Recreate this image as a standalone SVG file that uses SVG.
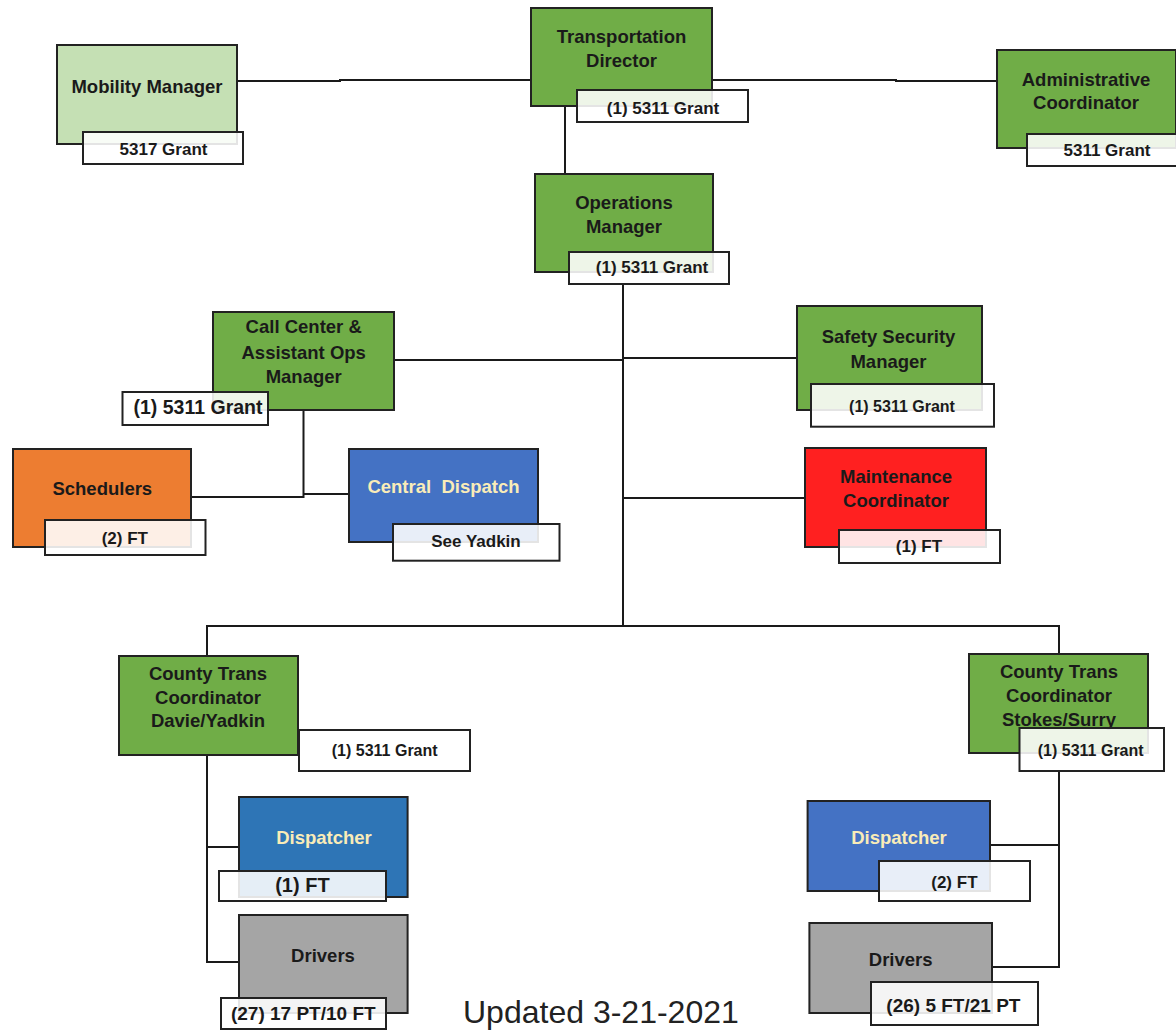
<svg xmlns="http://www.w3.org/2000/svg" width="1176" height="1031" viewBox="0 0 1176 1031">
<style>
.n{stroke:#222;stroke-width:2}
.g{fill:#70ad47}.lg{fill:#c5e0b4}.o{fill:#ed7d31}.b{fill:#4472c4}.b2{fill:#2e75b6}.r{fill:#ff2020}.gr{fill:#a5a5a5}
.lb{fill:#fff;fill-opacity:0.88;stroke:#222;stroke-width:2}
text{font-family:"Liberation Sans",Arial,sans-serif;font-weight:bold;fill:#1a1a1a;text-anchor:middle}
.t{font-size:18.5px}
.s{font-size:17px}
.cy{fill:#f9ecb8}
.c{fill:none;stroke:#1a1a1a;stroke-width:2}
</style>
<rect width="1176" height="1031" fill="#fff"/>
<g id="connectors">
<path class="c" d="M237,81 H340 V80 H531"/>
<path class="c" d="M712,80 H896 V81 H997"/>
<path class="c" d="M565,106 V174"/>
<path class="c" d="M623,284 V626"/>
<path class="c" d="M394,360 H623"/>
<path class="c" d="M623,358 H797"/>
<path class="c" d="M623,498 H805"/>
<path class="c" d="M303.5,410 V497 H191"/>
<path class="c" d="M303.5,494 H349"/>
<path class="c" d="M207,656 V626 H1059 V654"/>
<path class="c" d="M207,755 V962 H239"/>
<path class="c" d="M207,847 H239"/>
<path class="c" d="M1059,771 V967 H992"/>
<path class="c" d="M1059,845 H990"/>
</g>
<g id="mobility-manager">
<rect class="n lg" x="57" y="45" width="180" height="99"/>
<text class="t" x="147" y="93">Mobility Manager</text>
<rect class="lb" x="83" y="132" width="160" height="32"/>
<text class="s" x="163.5" y="155">5317 Grant</text>
</g>
<g id="transportation-director">
<rect class="n g" x="531" y="8" width="181" height="98"/>
<text class="t" x="621.5" y="43">Transportation</text>
<text class="t" x="621.5" y="67">Director</text>
<rect class="lb" x="577" y="90" width="171" height="32"/>
<text class="s" x="663" y="113.5">(1) 5311 Grant</text>
</g>
<g id="administrative-coordinator">
<rect class="n g" x="997" y="50" width="179" height="98"/>
<text class="t" x="1086" y="85.5">Administrative</text>
<text class="t" x="1086" y="109">Coordinator</text>
<rect class="lb" x="1027" y="134" width="160" height="32"/>
<text class="s" x="1107" y="155.5">5311 Grant</text>
</g>
<g id="operations-manager">
<rect class="n g" x="535" y="174" width="178" height="98"/>
<text class="t" x="624" y="208.8">Operations</text>
<text class="t" x="624" y="233">Manager</text>
<rect class="lb" x="569" y="252" width="160" height="32"/>
<text class="s" x="652" y="273">(1) 5311 Grant</text>
</g>
<g id="call-center">
<rect class="n g" x="213" y="312" width="181" height="98"/>
<text class="t" x="303.7" y="333.2">Call Center &amp;</text>
<text class="t" x="303.7" y="358.5">Assistant Ops</text>
<text class="t" x="303.7" y="383">Manager</text>
<rect class="lb" x="122.5" y="392" width="145.5" height="33"/>
<text x="198" y="414.2" style="font-size:19.5px">(1) 5311 Grant</text>
</g>
<g id="schedulers">
<rect class="n o" x="13" y="449" width="178" height="98"/>
<text class="t" x="102.3" y="495.2">Schedulers</text>
<rect class="lb" x="45" y="520" width="160.5" height="35"/>
<text class="s" x="124.8" y="543.7">(2) FT</text>
</g>
<g id="central-dispatch">
<rect class="n b" x="349" y="449" width="189" height="93"/>
<text class="t cy" x="443.5" y="493.2" xml:space="preserve">Central  Dispatch</text>
<rect class="lb" x="393" y="524" width="166.5" height="36.7"/>
<text class="s" x="476" y="546.7">See Yadkin</text>
</g>
<g id="safety-security-manager">
<rect class="n g" x="797" y="306" width="185" height="104"/>
<text class="t" x="888.5" y="343.2">Safety Security</text>
<text class="t" x="888.5" y="367.5">Manager</text>
<rect class="lb" x="811" y="384" width="183" height="42.7"/>
<text x="902" y="411.6" style="font-size:16px">(1) 5311 Grant</text>
</g>
<g id="maintenance-coordinator">
<rect class="n r" x="805" y="448" width="181" height="99"/>
<text class="t" x="896" y="483.2">Maintenance</text>
<text class="t" x="896" y="507.2">Coordinator</text>
<rect class="lb" x="839" y="530" width="161" height="33"/>
<text class="s" x="919" y="552">(1) FT</text>
</g>
<g id="county-davie-yadkin">
<rect class="n g" x="119" y="656" width="179" height="99"/>
<text class="t" x="208" y="679.8">County Trans</text>
<text class="t" x="208" y="703.8">Coordinator</text>
<text class="t" x="208" y="727.2">Davie/Yadkin</text>
<rect class="lb" x="299" y="730" width="171" height="41"/>
<text x="384.7" y="755.7" style="font-size:16px">(1) 5311 Grant</text>
</g>
<g id="county-stokes-surry">
<rect class="n g" x="969" y="654" width="179" height="99"/>
<text class="t" x="1059" y="678.2">County Trans</text>
<text class="t" x="1059" y="701.5">Coordinator</text>
<text class="t" x="1059" y="725.5">Stokes/Surry</text>
<rect class="lb" x="1019.5" y="728" width="144.5" height="43"/>
<text x="1090.7" y="755.7" style="font-size:16px">(1) 5311 Grant</text>
</g>
<g id="dispatcher-left">
<rect class="n b2" x="239" y="797" width="168.6" height="100"/>
<text class="t cy" x="324" y="844">Dispatcher</text>
<rect class="lb" x="219" y="871" width="167" height="30"/>
<text x="302.4" y="892.2" style="font-size:20px">(1) FT</text>
</g>
<g id="drivers-left">
<rect class="n gr" x="239" y="915" width="168.6" height="98"/>
<text class="t" x="323" y="961.5">Drivers</text>
<rect class="lb" x="221" y="998" width="165" height="31"/>
<text x="303.3" y="1020" style="font-size:19px">(27) 17 PT/10 FT</text>
</g>
<g id="dispatcher-right">
<rect class="n b" x="807.6" y="801" width="182.4" height="90"/>
<text class="t cy" x="899" y="844">Dispatcher</text>
<rect class="lb" x="879" y="861" width="151" height="40"/>
<text class="s" x="954.4" y="888.3">(2) FT</text>
</g>
<g id="drivers-right">
<rect class="n gr" x="809.4" y="923" width="182.6" height="90"/>
<text class="t" x="900.7" y="965.8">Drivers</text>
<rect class="lb" x="871" y="982" width="167" height="43"/>
<text x="953.4" y="1011.7" style="font-size:19px">(26) 5 FT/21 PT</text>
</g>
<text x="463" y="1023" style="font-size:32px;font-weight:normal;text-anchor:start;fill:#222">Updated 3-21-2021</text>
</svg>
